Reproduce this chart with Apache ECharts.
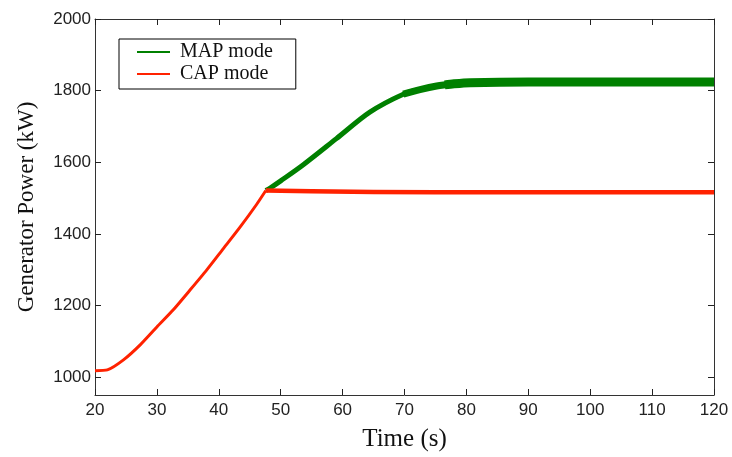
<!DOCTYPE html>
<html>
<head>
<meta charset="utf-8">
<script src="https://cdn.jsdelivr.net/npm/echarts@6/dist/echarts.min.js"></script>
<style>html,body{margin:0;padding:0;background:#fff}#c{width:732px;height:457px}</style>
</head>
<body>
<div id="c"></div>
<script>
// Data
var xTicks = [20, 30, 40, 50, 60, 70, 80, 90, 100, 110, 120];
var yTicks = [1000, 1200, 1400, 1600, 1800, 2000];

var capRiseTime  = [20, 22, 24.6, 27.3, 30, 32.65, 35.35, 38, 40.7, 43.4, 46.1, 47.6];
var capRisePower = [1018, 1020, 1048, 1090, 1140, 1188, 1243, 1298, 1358, 1418, 1482, 1521];

var capFlatTime  = [47.6, 55, 65, 75, 120];
var capFlatPower = [1521, 1519, 1517, 1516, 1516];

var mapRiseTime  = [47.6, 48.3, 50, 53.65, 59, 64.4, 69.8, 72.5];
var mapRisePower = [1521, 1528, 1548, 1593, 1666, 1740, 1790, 1803];

var mapMidTime  = [69.8, 72.5, 75.2, 78];
var mapMidPower = [1790, 1803, 1813, 1819];

var mapFlatTime  = [76.5, 78, 80.6, 90, 100, 110, 120];
var mapFlatPower = [1816, 1819, 1822, 1824, 1824, 1824, 1824];

function pairs(xs, ys) { return xs.map(function (x, i) { return [x, ys[i]]; }); }

var GREEN = '#008000', RED = '#ff2200';
var serif = '"Liberation Serif", "DejaVu Serif", serif';
var sans = '"Liberation Sans", Arial, sans-serif';

var chart = echarts.init(document.getElementById('c'), null, {renderer: 'canvas'});
var axisLine = {show: true, lineStyle: {color: '#333', width: 1}};
var tick = {show: true, inside: true, length: 6, lineStyle: {color: '#222', width: 1}};

function line(name, xs, ys, color, width, z, smooth) {
  return {
    name: name, type: 'line', showSymbol: false, symbol: 'none',
    data: pairs(xs, ys), smooth: smooth,
    lineStyle: {color: color, width: width, join: 'round'},
    itemStyle: {color: color}, z: z
  };
}

chart.setOption({
  animation: false,
  backgroundColor: '#fff',
  grid: {left: 95, top: 19, right: 18, bottom: 57, containLabel: false},
  legend: {
    orient: 'vertical', left: 119, top: 39,
    padding: [3, 23, 5, 18],
    borderColor: '#000', borderWidth: 1, backgroundColor: '#fff',
    itemWidth: 33, itemHeight: 2, itemGap: 2, icon: 'rect',
    textStyle: {fontFamily: serif, fontSize: 20, color: '#111', lineHeight: 20, padding: [0, 0, 0, 5]},
    data: ['MAP mode', 'CAP mode']
  },
  xAxis: [{
    type: 'value', min: 20, max: 120, interval: 10, position: 'bottom',
    name: 'Time (s)', nameLocation: 'middle', nameGap: 32,
    nameTextStyle: {fontFamily: serif, fontSize: 25, color: '#111'},
    axisLine: axisLine, axisTick: tick, splitLine: {show: false},
    axisLabel: {fontFamily: sans, fontSize: 17, color: '#222', margin: 7}
  }, {
    type: 'value', min: 20, max: 120, interval: 10, position: 'top',
    axisLine: axisLine, axisTick: tick, splitLine: {show: false}, axisLabel: {show: false}
  }],
  yAxis: [{
    type: 'value', min: 950, max: 2000, position: 'left',
    name: 'Generator Power (kW)', nameLocation: 'middle', nameGap: 57,
    nameTextStyle: {fontFamily: serif, fontSize: 23, color: '#111'},
    axisLine: axisLine, splitLine: {show: false},
    axisTick: Object.assign({}, tick, {customValues: yTicks}),
    axisLabel: {fontFamily: sans, fontSize: 17, color: '#222', margin: 4, customValues: yTicks,
      formatter: function (v) { return String(v); }}
  }, {
    type: 'value', min: 950, max: 2000, position: 'right',
    axisLine: axisLine, splitLine: {show: false},
    axisTick: Object.assign({}, tick, {customValues: yTicks}),
    axisLabel: {show: false}
  }],
  series: [
    line('MAP mode', mapRiseTime, mapRisePower, GREEN, 5, 2, 0.3),
    line('MAP mode', mapMidTime, mapMidPower, GREEN, 7, 2, 0.3),
    line('MAP mode', mapFlatTime, mapFlatPower, GREEN, 9, 2, 0.3),
    line('CAP mode', capRiseTime, capRisePower, RED, 3, 3, 0.2),
    line('CAP mode', capFlatTime, capFlatPower, RED, 4.5, 3, false)
  ]
});
</script>
</body>
</html>
